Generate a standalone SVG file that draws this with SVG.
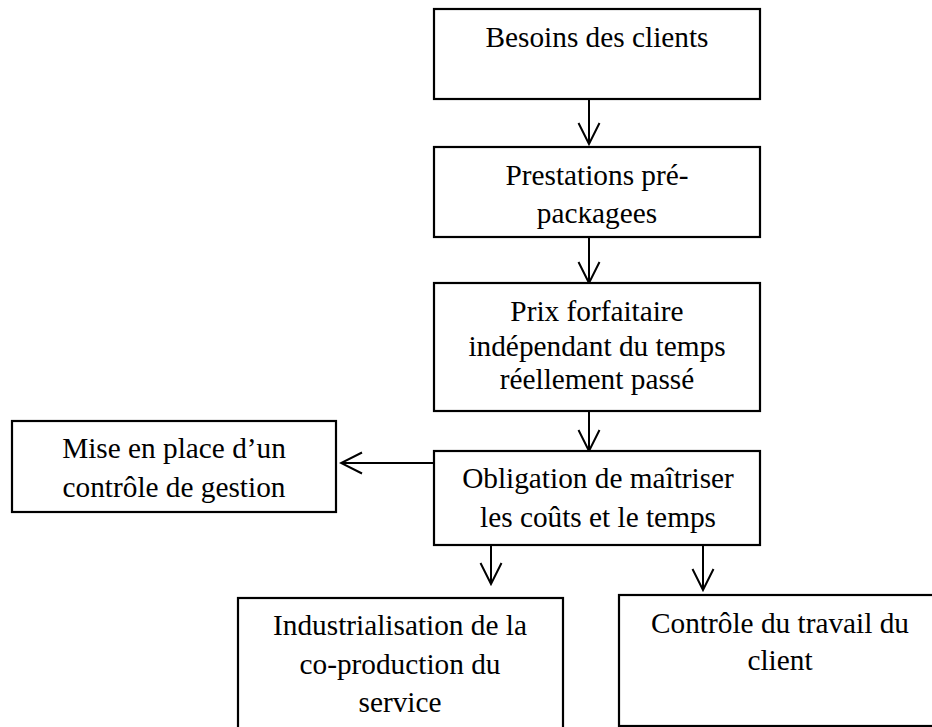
<svg xmlns="http://www.w3.org/2000/svg" width="932" height="727" viewBox="0 0 932 727">
<style>
.box{fill:#fff;stroke:#000;stroke-width:2.2}
.t{font-family:"Liberation Serif","Times New Roman",serif;font-size:29.3px;fill:#000;text-anchor:middle}
.c{stroke:#000;stroke-width:2;fill:none}
</style>
<defs>
<marker id="ah" viewBox="-23 -12 25 24" refX="0" refY="0" markerWidth="25" markerHeight="24" markerUnits="userSpaceOnUse" orient="auto">
<path d="M-21,-10.5 L0,0 L-21,10.5" fill="none" stroke="#000" stroke-width="2"/>
</marker>
<clipPath id="clipPk"><rect x="430" y="207" width="340" height="30"/></clipPath>
</defs>
<rect width="932" height="727" fill="#fff"/>
<g id="connectors">
<line class="c" x1="589" y1="99" x2="589" y2="144" marker-end="url(#ah)"/>
<line class="c" x1="589" y1="237" x2="589" y2="283" marker-end="url(#ah)"/>
<line class="c" x1="589" y1="411" x2="589" y2="451" marker-end="url(#ah)"/>
<line class="c" x1="434" y1="463" x2="341" y2="463" marker-end="url(#ah)"/>
<line class="c" x1="491" y1="541" x2="491" y2="584" marker-end="url(#ah)"/>
<line class="c" x1="703" y1="545" x2="703" y2="590" marker-end="url(#ah)"/>
</g>
<g id="n1">
<rect class="box" x="434" y="9" width="326" height="90"/>
<text class="t" x="597" y="47">Besoins des clients</text>
</g>
<g id="n2">
<rect class="box" x="434" y="147" width="326" height="90"/>
<text class="t" x="597" y="185">Prestations pré-</text>
<text class="t" x="597" y="223" clip-path="url(#clipPk)">packagées</text>
</g>
<g id="n3">
<rect class="box" x="434" y="283" width="326" height="128"/>
<text class="t" x="597" y="321">Prix forfaitaire</text>
<text class="t" x="597" y="356">indépendant du temps</text>
<text class="t" x="597" y="389">réellement passé</text>
</g>
<g id="n4">
<rect class="box" x="434" y="451" width="326" height="94"/>
<text class="t" x="598" y="488">Obligation de maîtriser</text>
<text class="t" x="598" y="527">les coûts et le temps</text>
</g>
<g id="n5">
<rect class="box" x="12" y="421" width="324" height="91"/>
<text class="t" x="174" y="458">Mise en place d’un</text>
<text class="t" x="174" y="497">contrôle de gestion</text>
</g>
<g id="n6">
<rect class="box" x="238" y="598" width="325" height="150"/>
<text class="t" x="400" y="635">Industrialisation de la</text>
<text class="t" x="400" y="674">co-production du</text>
<text class="t" x="400" y="712">service</text>
</g>
<g id="n7">
<rect class="box" x="619" y="595" width="330" height="131"/>
<text class="t" x="780" y="633">Contrôle du travail du</text>
<text class="t" x="780" y="670">client</text>
</g>
</svg>
